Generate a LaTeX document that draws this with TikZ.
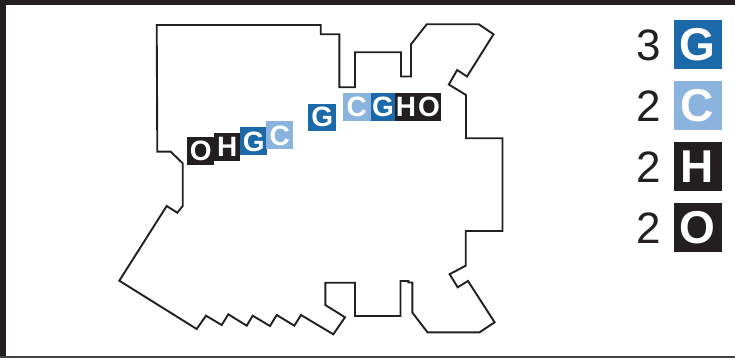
\documentclass[tikz,border=0pt]{standalone}
\usepackage{fontspec}
\setmainfont{Liberation Sans}
\definecolor{inkk}{HTML}{231F20}
\definecolor{dblue}{HTML}{1B69A9}
\definecolor{lblue}{HTML}{8AB4DD}
\tikzset{
  lbox/.style={inner sep=0pt, text=white, minimum height=28pt,
    font=\fontsize{28}{28}\selectfont\bfseries},
  legbox/.style={inner sep=0pt, text=white, minimum width=48pt, minimum height=49pt,
    font=\fontsize{46}{46}\selectfont\bfseries},
  digit/.style={inner sep=0pt, text=inkk, font=\fontsize{44}{44}\selectfont},
  outline/.style={draw=inkk, line width=1.9pt, line join=miter}
}
\begin{document}
\begin{tikzpicture}[x=1pt,y=-1pt]
\useasboundingbox (0,0) rectangle (735,358);
% frame
\fill[inkk] (0,0) rectangle (735,5);
\fill[inkk] (0,0) rectangle (6,358);
\fill[inkk!85] (0,356) rectangle (735,358);
% outline
\draw[outline] (156.7,25) -- (320.7,25) -- (320.7,34.3) -- (339.3,34.3) -- (339.3,87.3)
 -- (355,87.3) -- (355,52.3) -- (401,52.3) -- (401,76.5) -- (411,76.5) -- (411,44.3)
 -- (426.7,24.3) -- (478.8,24.3) -- (493.5,34.3) -- (467,76.5) -- (457.2,70) -- (448.8,84.5)
 -- (466,95) -- (466,138.3) -- (502.5,138.3) -- (502.5,231) -- (465.7,231) -- (465.7,265.7)
 -- (449.6,274.2) -- (457.7,287.3) -- (468,281) -- (494.6,322.3) -- (479.6,332.3)
 -- (427.5,332.3) -- (412.3,312.5) -- (412.3,282.5) -- (408.3,282.5) -- (408.3,281)
 -- (400.5,281) -- (400.5,316) -- (355,316) -- (355,282.7) -- (325.3,282.7) -- (325.3,305)
 -- (345,317.3) -- (333.3,334.3) -- (301,315) -- (294.3,325.7) -- (276.7,315) -- (270,326)
 -- (252.7,315.7) -- (246.7,325.7) -- (228.3,314.3) -- (221.7,325) -- (206,315.7)
 -- (196.7,329) -- (119.3,280.7) -- (166.7,206) -- (177.3,212.7) -- (182.7,206)
 -- (182.7,163.3) -- (170.7,151.7) -- (157.3,151.7) -- cycle;
% group 1
\node[lbox, fill=inkk, minimum width=27pt] (o1) at (200.8,150.8) {O};
\node[lbox, fill=inkk, minimum width=26pt] (h1) at (227.2,146.8) {H};
\node[lbox, fill=dblue, minimum width=27pt] (g1) at (253.7,141.5) {G};
\node[lbox, fill=lblue, minimum width=27pt] (c1) at (279.7,135.5) {C};
% group 2
\node[lbox, fill=dblue, minimum width=28pt, minimum height=27pt] (g2) at (322.2,117.3) {G};
\node[lbox, fill=lblue, minimum width=28pt] (c2) at (356.7,107.2) {C};
\node[lbox, fill=dblue, minimum width=24.5pt] (g3) at (382.9,107.2) {G};
\node[lbox, fill=inkk, minimum width=22pt] (h2) at (406,107.2) {H};
\node[lbox, fill=inkk, minimum width=24pt] (o2) at (429,107.2) {O};
% legend
\node[legbox, fill=dblue] (lg) at (697.5,44.5) {G};
\node[legbox, fill=lblue] (lc) at (697.5,105.5) {C};
\node[legbox, fill=inkk] (lh) at (697.5,166.7) {H};
\node[legbox, fill=inkk] (lo) at (697.5,227.8) {O};
\node[digit] (ng) at (648.5,45.5) {3};
\node[digit] (nc) at (648.5,106) {2};
\node[digit] (nh) at (648.5,167) {2};
\node[digit] (no) at (648.5,228) {2};
\end{tikzpicture}
\end{document}
